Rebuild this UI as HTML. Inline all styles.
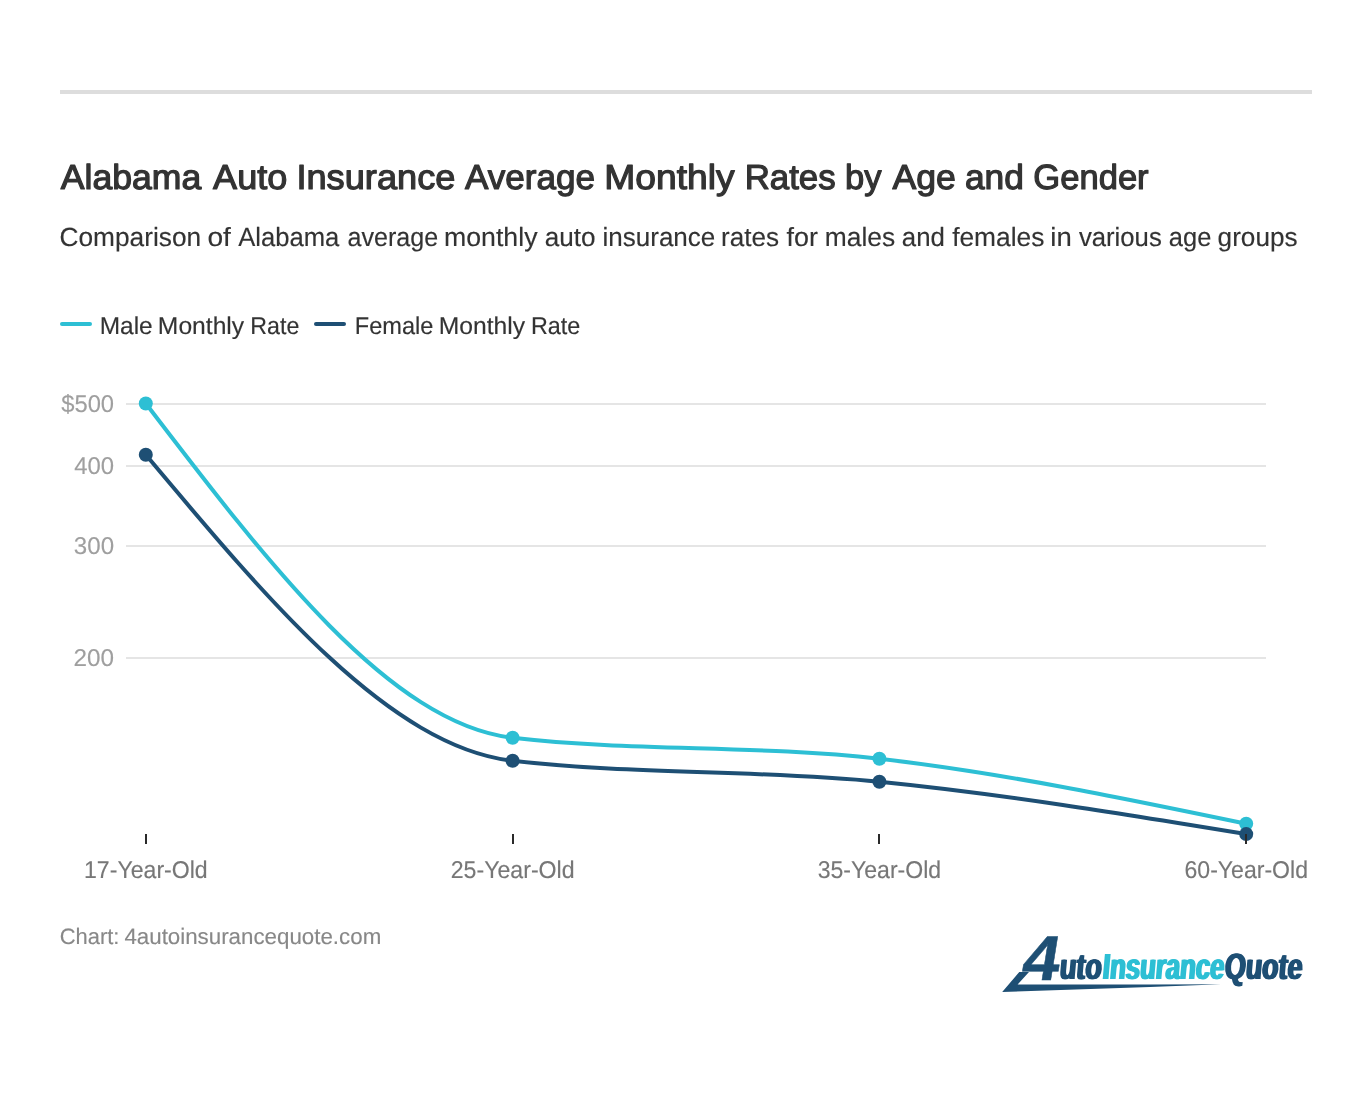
<!DOCTYPE html>
<html lang="en">
<head>
<meta charset="utf-8">
<title>Alabama Auto Insurance Average Monthly Rates by Age and Gender</title>
<style>
html,body{margin:0;padding:0;background:#ffffff;}
body{width:1372px;height:1104px;overflow:hidden;position:relative;}
svg{display:block;position:absolute;left:0;top:0;}
svg text{font-family:"Liberation Sans", Arial, sans-serif;white-space:pre;text-rendering:geometricPrecision;}
.lt{position:absolute;top:949.3px;white-space:nowrap;font-family:"Liberation Sans", Arial, sans-serif;font-weight:bold;font-size:36.5px;line-height:1;transform-origin:0 30.9px;}
.nv{color:#1e4f74;text-shadow:1.4px 0 0 #1e4f74,-1.4px 0 0 #1e4f74;}
.cy{color:#2dbfd4;text-shadow:1.4px 0 0 #2dbfd4,-1.4px 0 0 #2dbfd4;}
</style>
</head>
<body>
<svg width="1372" height="1104" viewBox="0 0 1372 1104">
<rect x="0" y="0" width="1372" height="1104" fill="#ffffff"/>
<!-- header rule -->
<rect x="60" y="90" width="1252" height="4" fill="#dddddd"/>
<!-- headline + description -->
<text y="189.3" font-size="34.8" font-weight="normal" fill="#333333" stroke="#333333" stroke-width="1.2" stroke-linejoin="round"><tspan x="60.81" textLength="140.42" lengthAdjust="spacingAndGlyphs">Alabama</tspan> <tspan x="213.12" textLength="74.26" lengthAdjust="spacingAndGlyphs">Auto</tspan> <tspan x="296.40" textLength="159.02" lengthAdjust="spacingAndGlyphs">Insurance</tspan> <tspan x="465.00" textLength="130.09" lengthAdjust="spacingAndGlyphs">Average</tspan> <tspan x="604.29" textLength="130.37" lengthAdjust="spacingAndGlyphs">Monthly</tspan> <tspan x="744.65" textLength="91.01" lengthAdjust="spacingAndGlyphs">Rates</tspan> <tspan x="844.96" textLength="36.56" lengthAdjust="spacingAndGlyphs">by</tspan> <tspan x="892.41" textLength="63.43" lengthAdjust="spacingAndGlyphs">Age</tspan> <tspan x="964.94" textLength="58.95" lengthAdjust="spacingAndGlyphs">and</tspan> <tspan x="1033.36" textLength="115.27" lengthAdjust="spacingAndGlyphs">Gender</tspan></text>
<text y="245.8" font-size="26.3" font-weight="normal" fill="#333333" stroke="#333333" stroke-width="0.15" stroke-linejoin="round"><tspan x="59.55" textLength="141.58" lengthAdjust="spacingAndGlyphs">Comparison</tspan> <tspan x="207.43" textLength="23.50" lengthAdjust="spacingAndGlyphs">of</tspan> <tspan x="238.20" textLength="101.20" lengthAdjust="spacingAndGlyphs">Alabama</tspan> <tspan x="347.55" textLength="90.59" lengthAdjust="spacingAndGlyphs">average</tspan> <tspan x="444.02" textLength="93.46" lengthAdjust="spacingAndGlyphs">monthly</tspan> <tspan x="544.81" textLength="50.82" lengthAdjust="spacingAndGlyphs">auto</tspan> <tspan x="602.47" textLength="112.85" lengthAdjust="spacingAndGlyphs">insurance</tspan> <tspan x="721.06" textLength="58.00" lengthAdjust="spacingAndGlyphs">rates</tspan> <tspan x="786.64" textLength="31.42" lengthAdjust="spacingAndGlyphs">for</tspan> <tspan x="824.84" textLength="70.36" lengthAdjust="spacingAndGlyphs">males</tspan> <tspan x="901.82" textLength="43.04" lengthAdjust="spacingAndGlyphs">and</tspan> <tspan x="952.15" textLength="92.28" lengthAdjust="spacingAndGlyphs">females</tspan> <tspan x="1050.37" textLength="21.43" lengthAdjust="spacingAndGlyphs">in</tspan> <tspan x="1078.90" textLength="82.86" lengthAdjust="spacingAndGlyphs">various</tspan> <tspan x="1168.83" textLength="42.47" lengthAdjust="spacingAndGlyphs">age</tspan> <tspan x="1217.61" textLength="79.95" lengthAdjust="spacingAndGlyphs">groups</tspan></text>
<!-- legend -->
<rect x="60" y="322" width="32" height="4" rx="2" ry="2" fill="#2dbfd4"/>
<text y="333.9" font-size="24.3" font-weight="normal" fill="#333333" stroke="#333333" stroke-width="0.15" stroke-linejoin="round"><tspan x="99.69" textLength="53.04" lengthAdjust="spacingAndGlyphs">Male</tspan> <tspan x="157.87" textLength="86.31" lengthAdjust="spacingAndGlyphs">Monthly</tspan> <tspan x="250.29" textLength="49.04" lengthAdjust="spacingAndGlyphs">Rate</tspan></text>
<rect x="314" y="322" width="32" height="4" rx="2" ry="2" fill="#1e4f74"/>
<text y="333.9" font-size="24.3" font-weight="normal" fill="#333333" stroke="#333333" stroke-width="0.15" stroke-linejoin="round"><tspan x="354.76" textLength="78.64" lengthAdjust="spacingAndGlyphs">Female</tspan> <tspan x="438.67" textLength="86.41" lengthAdjust="spacingAndGlyphs">Monthly</tspan> <tspan x="530.88" textLength="49.36" lengthAdjust="spacingAndGlyphs">Rate</tspan></text>
<!-- y grid + labels -->
<rect x="126" y="403" width="1140" height="2" fill="#e5e5e5"/>
<rect x="126" y="465" width="1140" height="2" fill="#e5e5e5"/>
<rect x="126" y="545" width="1140" height="2" fill="#e5e5e5"/>
<rect x="126" y="657" width="1140" height="2" fill="#e5e5e5"/>
<text y="412" font-size="24.3" font-weight="normal" fill="#9f9f9f" stroke="#9f9f9f" stroke-width="0.15" stroke-linejoin="round"><tspan x="61.26" textLength="52.84" lengthAdjust="spacingAndGlyphs">$500</tspan></text>
<text y="474" font-size="24.3" font-weight="normal" fill="#9f9f9f" stroke="#9f9f9f" stroke-width="0.15" stroke-linejoin="round"><tspan x="74.21" textLength="39.88" lengthAdjust="spacingAndGlyphs">400</tspan></text>
<text y="554" font-size="24.3" font-weight="normal" fill="#9f9f9f" stroke="#9f9f9f" stroke-width="0.15" stroke-linejoin="round"><tspan x="73.86" textLength="40.23" lengthAdjust="spacingAndGlyphs">300</tspan></text>
<text y="666" font-size="24.3" font-weight="normal" fill="#9f9f9f" stroke="#9f9f9f" stroke-width="0.15" stroke-linejoin="round"><tspan x="73.60" textLength="40.49" lengthAdjust="spacingAndGlyphs">200</tspan></text>
<!-- series -->
<path d="M145.80,403.50C268.07,563.65,390.33,723.80,512.60,737.80C634.87,751.80,757.13,744.80,879.40,758.80C1001.67,772.80,1123.93,798.25,1246.20,823.70" fill="none" stroke="#2dbfd4" stroke-width="4" stroke-linecap="round" stroke-linejoin="round"/>
<circle cx="145.8" cy="403.5" r="7" fill="#2dbfd4"/>
<circle cx="512.6" cy="737.8" r="7" fill="#2dbfd4"/>
<circle cx="879.4" cy="758.8" r="7" fill="#2dbfd4"/>
<circle cx="1246.2" cy="823.7" r="7" fill="#2dbfd4"/>
<path d="M145.80,454.80C268.07,600.80,390.33,746.80,512.60,760.80C634.87,774.80,757.13,769.58,879.40,781.80C1001.67,794.02,1123.93,814.06,1246.20,834.10" fill="none" stroke="#1e4f74" stroke-width="4" stroke-linecap="round" stroke-linejoin="round"/>
<circle cx="145.8" cy="454.8" r="7" fill="#1e4f74"/>
<circle cx="512.6" cy="760.8" r="7" fill="#1e4f74"/>
<circle cx="879.4" cy="781.8" r="7" fill="#1e4f74"/>
<circle cx="1246.2" cy="834.1" r="7" fill="#1e4f74"/>
<!-- x ticks + labels -->
<rect x="145" y="834" width="2" height="10" fill="#2a2a2a"/>
<rect x="512" y="834" width="2" height="10" fill="#2a2a2a"/>
<rect x="878" y="834" width="2" height="10" fill="#2a2a2a"/>
<rect x="1245" y="834" width="2" height="10" fill="#2a2a2a"/>
<text y="878" font-size="24.3" font-weight="normal" fill="#777777" stroke="#777777" stroke-width="0.15" stroke-linejoin="round"><tspan x="84.04" textLength="123.66" lengthAdjust="spacingAndGlyphs">17-Year-Old</tspan></text>
<text y="878" font-size="24.3" font-weight="normal" fill="#777777" stroke="#777777" stroke-width="0.15" stroke-linejoin="round"><tspan x="450.75" textLength="123.85" lengthAdjust="spacingAndGlyphs">25-Year-Old</tspan></text>
<text y="878" font-size="24.3" font-weight="normal" fill="#777777" stroke="#777777" stroke-width="0.15" stroke-linejoin="round"><tspan x="817.69" textLength="123.50" lengthAdjust="spacingAndGlyphs">35-Year-Old</tspan></text>
<text y="878" font-size="24.3" font-weight="normal" fill="#777777" stroke="#777777" stroke-width="0.15" stroke-linejoin="round"><tspan x="1184.51" textLength="123.48" lengthAdjust="spacingAndGlyphs">60-Year-Old</tspan></text>
<!-- footer -->
<text y="944.2" font-size="22.3" font-weight="normal" fill="#888888" stroke="#888888" stroke-width="0.15" stroke-linejoin="round"><tspan x="59.72" textLength="59.72" lengthAdjust="spacingAndGlyphs">Chart:</tspan> <tspan x="124.40" textLength="256.85" lengthAdjust="spacingAndGlyphs">4autoinsurancequote.com</tspan></text>
<!-- logo swoosh + numeral -->
<path d="M1019.3,972 L1029,972 L1017.6,984.4 L1150,984.6 L1221,984.3 L1150,986.9 L1002.2,992 Z" fill="#1e4f74"/>
<text transform="matrix(1.06,0,-0.16,1,1020.0,979.7)" font-size="63.2" font-weight="bold" fill="#1e4f74" stroke="#1e4f74" stroke-width="0.5" stroke-linejoin="miter">4</text>
</svg>
<span class="lt nv" style="left:1058.6px;transform:skewX(-5deg) scaleX(0.7401);">uto</span>
<span class="lt cy" style="left:1102.2px;transform:skewX(-5deg) scaleX(0.7046);">Insurance</span>
<span class="lt nv" style="left:1223.8px;transform:skewX(-5deg) scaleX(0.7350);">Quote</span>
</body>
</html>
